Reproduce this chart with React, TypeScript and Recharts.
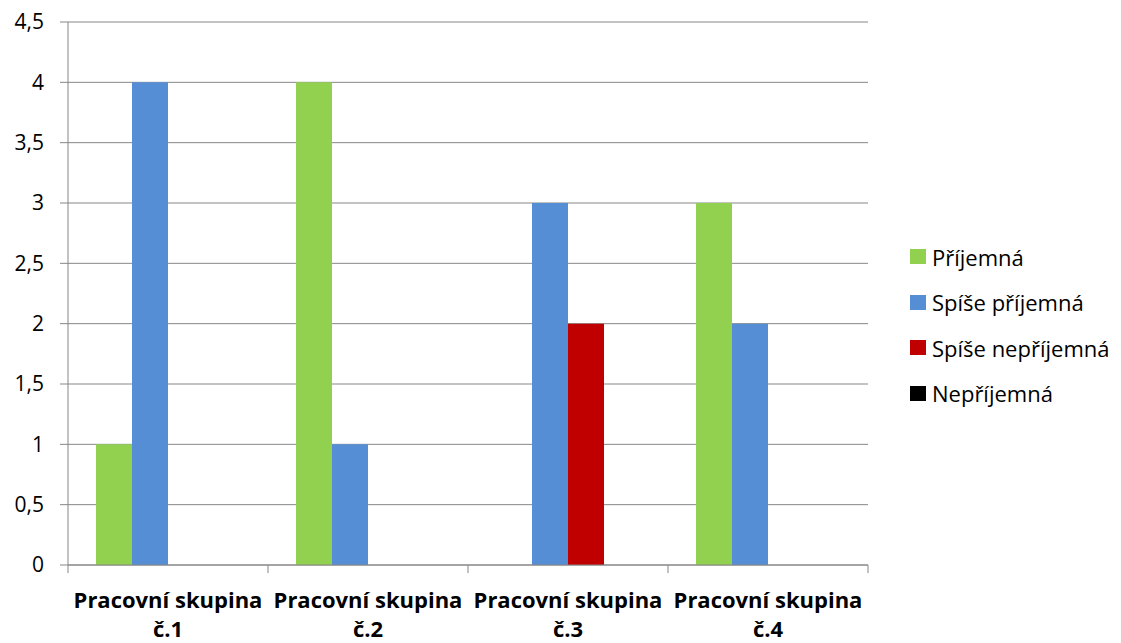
import React from "react";
import { BarChart, Bar, XAxis, YAxis, CartesianGrid } from "recharts";

const categories = ["Pracovní skupina č.1", "Pracovní skupina č.2", "Pracovní skupina č.3", "Pracovní skupina č.4"];
const prijemna = [1, 4, 0, 3];
const spisePrijemna = [4, 1, 3, 2];
const spiseNeprijemna = [0, 0, 2, 0];
const neprijemna = [0, 0, 0, 0];
const yTicks = [0, 0.5, 1, 1.5, 2, 2.5, 3, 3.5, 4, 4.5];

const series = [
  { key: "prijemna", name: "Příjemná", color: "#92D050", values: prijemna },
  { key: "spisePrijemna", name: "Spíše příjemná", color: "#558ED5", values: spisePrijemna },
  { key: "spiseNeprijemna", name: "Spíše nepříjemná", color: "#C00000", values: spiseNeprijemna },
  { key: "neprijemna", name: "Nepříjemná", color: "#000000", values: neprijemna },
];

const data = categories.map((name, i) => {
  const row: Record<string, string | number> = { name };
  series.forEach((s) => (row[s.key] = s.values[i]));
  return row;
});

const W = 1121;
const H = 643;
const FONT = "'Open Sans', Lato, sans-serif";
const GRID = "#878787";
const PLOT_LEFT = 68;
const PLOT_RIGHT = 868;
const X_AXIS_H = 78;
const HALF_BAND = (PLOT_RIGHT - PLOT_LEFT) / categories.length / 2;

function XTick(props: any) {
  const { x, y, payload, index } = props;
  const text: string = payload.value;
  const cut = text.lastIndexOf(" ");
  const l1 = text.slice(0, cut);
  const l2 = text.slice(cut + 1);
  return (
    <g>
      <line x1={x - HALF_BAND} x2={x - HALF_BAND} y1={y} y2={y + 8} stroke={GRID} />
      {index === categories.length - 1 && (
        <line x1={x + HALF_BAND} x2={x + HALF_BAND} y1={y} y2={y + 8} stroke={GRID} />
      )}
      <text x={x} y={y + 43} textAnchor="middle" fontFamily={FONT} fontWeight="bold" fontSize={22} fill="#000">
        {l1}
      </text>
      <text x={x} y={y + 72} textAnchor="middle" fontFamily={FONT} fontWeight="bold" fontSize={22} fill="#000">
        {l2}
      </text>
    </g>
  );
}

export default function App() {
  return (
    <div style={{ position: "absolute", left: 0, top: 0, width: W, height: H, background: "#fff" }}>
      <BarChart
        width={W}
        height={H}
        data={data}
        margin={{ top: 22, right: W - PLOT_RIGHT, bottom: 0, left: 0 }}
        barCategoryGap="14%"
        barGap={0}
      >
        <CartesianGrid vertical={false} stroke={GRID} strokeWidth={1} />
        <XAxis
          dataKey="name"
          stroke={GRID}
          tickLine={false}
          tickSize={0}
          tickMargin={0}
          tick={<XTick />}
          interval={0}
          height={X_AXIS_H}
        />
        <YAxis
          width={PLOT_LEFT}
          domain={[0, 4.5]}
          ticks={yTicks}
          interval={0}
          stroke={GRID}
          tickSize={8}
          tickMargin={16}
          tickFormatter={(v: number) => String(v).replace(".", ",")}
          tick={{ fill: "#000", fontSize: 21, fontFamily: FONT }}
        />
        {series.map((s) => (
          <Bar key={s.key} dataKey={s.key} name={s.name} fill={s.color} isAnimationActive={false} />
        ))}
      </BarChart>
      <div style={{ position: "absolute", left: 910, top: 234, fontFamily: FONT, fontSize: 22, color: "#000" }}>
        {series.map((s) => (
          <div key={s.key} style={{ display: "flex", alignItems: "center", height: 45.5 }}>
            <span style={{ display: "inline-block", width: 16, height: 15, background: s.color, marginRight: 6 }} />
            <span style={{ lineHeight: "24px", whiteSpace: "nowrap" }}>{s.name}</span>
          </div>
        ))}
      </div>
    </div>
  );
}
